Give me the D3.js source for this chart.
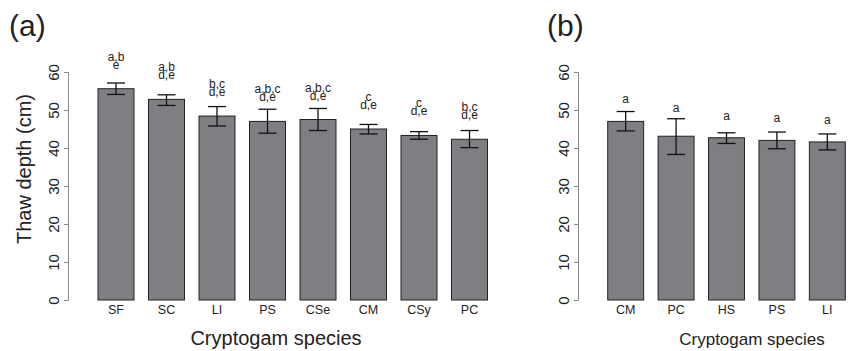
<!DOCTYPE html>
<html>
<head>
<meta charset="utf-8">
<script src="https://cdn.jsdelivr.net/npm/d3@7"></script>
<style>
  body { margin: 0; background: #fff; }
  svg { display: block; font-family: "Liberation Sans", Arial, Helvetica, sans-serif; }
</style>
</head>
<body>
<svg id="chart" width="850" height="351"></svg>
<script>
// ---- données panneau (a) ----
let speciesA = ["SF", "SC", "LI", "PS", "CSe", "CM", "CSy", "PC"];
let meanA    = [55.6, 52.8, 48.4, 47.0, 47.5, 45.0, 43.3, 42.3];
let upperA   = [57.1, 54.0, 50.9, 50.2, 50.4, 46.2, 44.3, 44.6];
let lowerA   = [54.1, 51.2, 45.8, 43.9, 44.6, 43.7, 42.3, 40.1];
let lettersTopA = ["a,b", "a,b", "b,c", "a,b,c", "a,b,c", "c", "c", "b,c"];
let lettersBotA = ["e", "d,e", "d,e", "d,e", "d,e", "d,e", "d,e", "d,e"];

// ---- données panneau (b) ----
let speciesB = ["CM", "PC", "HS", "PS", "LI"];
let meanB    = [47.0, 43.1, 42.7, 42.0, 41.6];
let upperB   = [49.6, 47.7, 44.0, 44.2, 43.7];
let lowerB   = [44.5, 38.3, 41.2, 39.8, 39.5];
let lettersB = ["a", "a", "a", "a", "a"];

let yTicks = [0, 10, 20, 30, 40, 50, 60];

let svg = d3.select("#chart");

let y = d3.scaleLinear().domain([0, 60]).range([300, 72]);

function drawPanel(opts) {
  let g = svg.append("g");
  let x = d3.scaleBand()
    .domain(opts.species)
    .range(opts.xRange)
    .paddingInner(0.287)
    .paddingOuter(0);

  let data = opts.species.map((s, i) => ({
    s, mean: opts.mean[i], up: opts.upper[i], lo: opts.lower[i],
    top: opts.top ? opts.top[i] : null, bot: opts.bot[i]
  }));

  // axe y
  let yAxis = d3.axisLeft(y).tickValues(yTicks).tickSize(4).tickPadding(3);
  let ax = g.append("g").attr("transform", `translate(${opts.axisX},0)`).call(yAxis);
  ax.select(".domain").attr("stroke", "#8a8a8a").attr("stroke-width", 1);
  ax.selectAll(".tick line").attr("stroke", "#8a8a8a");
  ax.selectAll(".tick text")
    .attr("font-size", 15)
    .attr("fill", "#222")
    .attr("transform", "rotate(-90)")
    .attr("x", 0)
    .attr("y", -14)
    .attr("dy", "0.35em")
    .attr("text-anchor", "middle");

  // barres
  g.selectAll("rect.bar").data(data).join("rect")
    .attr("class", "bar")
    .attr("x", d => x(d.s))
    .attr("y", d => y(d.mean))
    .attr("width", x.bandwidth())
    .attr("height", d => y(0) - y(d.mean))
    .attr("fill", "#7f7f83")
    .attr("stroke", "#222")
    .attr("stroke-width", 1);

  // barres d'erreur
  let cap = 9;
  let eb = g.selectAll("g.err").data(data).join("g").attr("class", "err")
    .attr("transform", d => `translate(${x(d.s) + x.bandwidth() / 2},0)`);
  eb.append("line").attr("y1", d => y(d.up)).attr("y2", d => y(d.lo));
  eb.append("line").attr("x1", -cap).attr("x2", cap).attr("y1", d => y(d.up)).attr("y2", d => y(d.up));
  eb.append("line").attr("x1", -cap).attr("x2", cap).attr("y1", d => y(d.lo)).attr("y2", d => y(d.lo));
  eb.selectAll("line").attr("stroke", "#111").attr("stroke-width", 1.3);

  // lettres de significativité
  eb.each(function(d) {
    let base = Math.min(y(d.mean) - opts.labOff, y(d.up) - 7);
    let el = d3.select(this);
    el.append("text").attr("y", base).attr("text-anchor", "middle")
      .attr("font-size", 12).attr("fill", "#222").text(d.bot);
    if (d.top) {
      el.append("text").attr("y", base - 8).attr("text-anchor", "middle")
        .attr("font-size", 12).attr("fill", "#222").text(d.top);
    }
  });

  // étiquettes des espèces
  g.selectAll("text.cat").data(data).join("text")
    .attr("class", "cat")
    .attr("x", d => x(d.s) + x.bandwidth() / 2)
    .attr("y", 314)
    .attr("text-anchor", "middle")
    .attr("font-size", 12.5)
    .attr("fill", "#222")
    .text(d => d.s);

  // titre axe x
  g.append("text")
    .attr("x", opts.xTitleX)
    .attr("y", 345)
    .attr("text-anchor", "middle")
    .attr("font-size", opts.xTitleSize)
    .attr("fill", "#222")
    .text("Cryptogam species");

  // lettre du panneau
  g.append("text")
    .attr("x", opts.panelX)
    .attr("y", 36)
    .attr("font-size", 30)
    .attr("fill", "#222")
    .text(opts.panel);
}

drawPanel({
  species: speciesA, mean: meanA, upper: upperA, lower: lowerA,
  top: lettersTopA, bot: lettersBotA,
  xRange: [98, 487.5], axisX: 68, labOff: 20,
  xTitleX: 276, xTitleSize: 20, panelX: 9, panel: "(a)"
});

drawPanel({
  species: speciesB, mean: meanB, upper: upperB, lower: lowerB,
  top: null, bot: lettersB,
  xRange: [607.7, 845.3], axisX: 578, labOff: 18,
  xTitleX: 752, xTitleSize: 17, panelX: 547, panel: "(b)"
});

// titre axe y (panneau a)
svg.append("text")
  .attr("transform", "translate(31,169) rotate(-90)")
  .attr("text-anchor", "middle")
  .attr("font-size", 20)
  .attr("fill", "#222")
  .text("Thaw depth (cm)");
</script>
</body>
</html>
